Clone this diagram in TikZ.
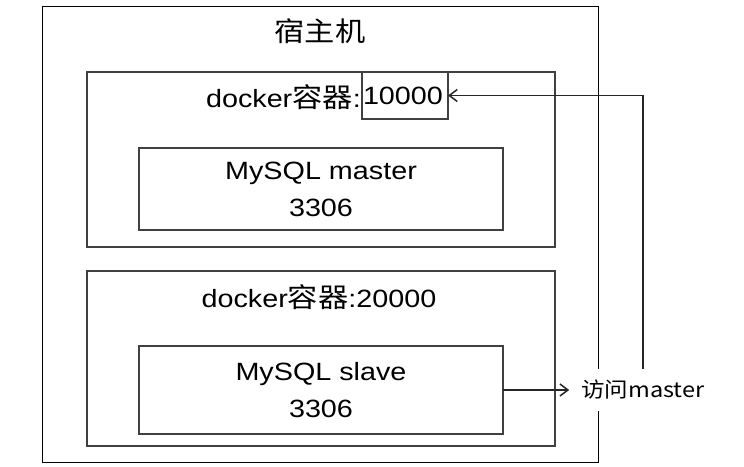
\documentclass[tikz,border=0pt]{standalone}
\usepackage{fontspec}
\setmainfont{Liberation Sans}[FakeStretch=1.15]
\newfontfamily\cjk{Noto Sans CJK SC}[FakeStretch=1.12]
\usetikzlibrary{arrows.meta}
\begin{document}
\begin{tikzpicture}[x=1pt,y=-1pt,
  box/.style={draw=black!75, line width=1.2pt, inner sep=0pt, outer sep=0pt},
  lat/.style={font=\fontsize{25}{37}\selectfont},
  tip/.style={-{Straight Barb[length=8pt,width=12pt,line width=1.5pt]}, line width=1.2pt, draw=black!85}]
\useasboundingbox (0,0) rectangle (744,466);
\node[box, draw=black, line width=1pt, minimum width=556pt, minimum height=456pt] (host) at (320,234) {};
\node[font=\cjk\fontsize{27}{30}\selectfont] (title) at (320,31) {宿主机};
\node[box, minimum width=468pt, minimum height=175pt] (dock1) at (321,159.5) {};
\node[box, minimum width=468pt, minimum height=175pt] (dock2) at (321,358.5) {};
\node[box, lat, align=center, minimum width=364pt, minimum height=82pt] (master) at (321,189) {MySQL master\\3306};
\node[box, lat, align=center, minimum width=364pt, minimum height=88pt] (slave) at (321,390) {MySQL slave\\3306};
\node[box, lat, text width=84pt, inner xsep=1pt, align=left, minimum height=47pt] (port) at (405,95.5) {10000};
\node[lat, anchor=east, inner sep=0pt] (d1label) at (361,97) {docker{\cjk\fontsize{27}{30}\selectfont 容器}:};
\node[lat] (d2label) at (319,297) {docker{\cjk\fontsize{27}{30}\selectfont 容器}:20000};
\node[fill=white, font=\cjk\fontsize{21}{24}\selectfont, minimum height=42pt, inner xsep=12pt] (visit) at (643,390) {访问master};
\draw[tip] (slave.east) -- (visit.west);
\draw[tip] (visit.north) -- (visit.north |- port.east) -- (port.east);
\end{tikzpicture}
\end{document}
